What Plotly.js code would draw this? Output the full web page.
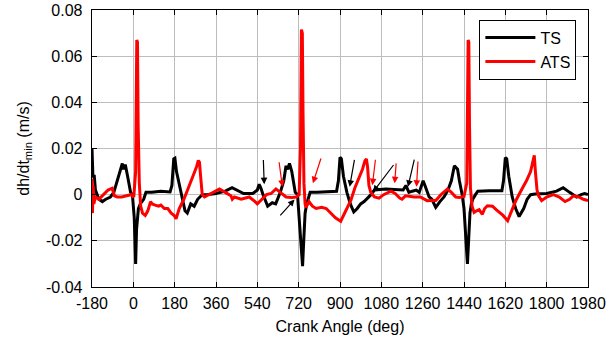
<!DOCTYPE html>
<html>
<head>
<meta charset="utf-8">
<script src="https://cdn.plot.ly/plotly-3.0.1.min.js"></script>
<style>html,body{margin:0;padding:0;background:#fff;}#chart{width:609px;height:346px;}</style>
</head>
<body>
<div id="chart"></div>
<script>
// TS series (black)
const tsAngle = [-180,-176,-170,-165,-150,-135,-120,-100,-85,-70,-55,-48,-42,-35,-25,-12,-4,4,10,14,22,30,45,55,80,120,160,168,176,181,188,200,212,225,235,250,265,280,300,320,360,400,430,450,480,520,540,548,555,565,585,605,620,640,655,665,672,680,690,705,715,722,737,742,748,755,762,770,800,850,885,893,900,906,915,930,945,960,975,990,1005,1035,1050,1100,1150,1175,1187,1200,1215,1232,1245,1262,1270,1288,1300,1317,1335,1353,1370,1385,1398,1404,1412,1420,1432,1440,1455,1460,1466,1472,1478,1490,1500,1550,1605,1612,1620,1626,1635,1650,1665,1680,1700,1715,1730,1750,1800,1843,1872,1900,1930,1950,1965,1980];
const tsValue = [0.020,0.008,0.008,0.002,-0.002,-0.003,-0.002,-0.001,0.001,0.006,0.012,0.0135,0.011,0.013,0.008,0.001,0.0,-0.01,-0.030,-0.015,-0.006,-0.004,-0.002,0.001,0.001,0.0015,0.0012,0.004,0.0155,0.0158,0.010,0.004,-0.002,-0.007,-0.008,-0.004,-0.005,-0.002,0.0,0.0,0.0005,0.0015,0.003,0.002,0.0005,0.0005,0.002,0.0045,0.003,0.0,-0.005,-0.0035,-0.004,0.001,0.006,0.0125,0.011,0.0135,0.010,0.001,0.0,-0.010,-0.031,-0.020,-0.008,-0.004,-0.001,0.001,0.001,0.0012,0.0015,0.006,0.0162,0.0155,0.008,0.001,-0.004,-0.0075,-0.006,-0.004,-0.003,0.0,0.002,0.0025,0.0022,0.002,0.004,0.001,0.0015,0.002,0.001,0.006,0.004,-0.001,-0.002,-0.0055,-0.003,-0.001,0.002,0.006,0.0125,0.012,0.011,0.006,0.0,-0.006,-0.030,-0.020,-0.008,-0.004,-0.002,0.0,0.0015,0.0017,0.0017,0.006,0.016,0.0155,0.008,-0.001,-0.006,-0.0095,-0.006,-0.002,0.0,0.0003,0.0005,0.0015,0.003,0.001,-0.001,0.0,0.0005,0.0];

// ATS series (red)
const atsAngle = [-180,-178,-175,-172,-165,-150,-130,-110,-92,-82,-70,-50,-30,-10,2,10,15,18,21,26,32,40,52,63,75,82,95,110,120,135,150,165,178,186,200,220,240,260,275,283,288,293,300,310,330,350,375,400,425,431,440,470,505,530,540,560,580,600,621,640,665,690,710,722,728,732,736,739,743,748,752,765,780,796,820,840,860,880,903,915,930,947,965,985,998,1008,1015,1020,1026,1034,1050,1070,1090,1122,1140,1160,1170,1185,1200,1223,1250,1279,1300,1317,1340,1368,1385,1404,1420,1440,1452,1458,1461,1464,1468,1475,1484,1495,1506,1520,1530,1542,1564,1580,1593,1610,1630,1648,1666,1690,1712,1730,1741,1746,1751,1758,1765,1778,1800,1829,1855,1880,1900,1916,1940,1960,1980];
const atsValue = [0.007,-0.008,0.004,-0.004,-0.001,-0.002,0.0,0.002,0.0028,-0.0005,-0.001,-0.001,-0.0005,0.0,-0.001,0.010,0.067,0.066,0.030,0.005,-0.005,-0.008,-0.009,-0.007,-0.003,-0.004,-0.0045,-0.005,-0.0045,-0.006,-0.006,-0.008,-0.009,-0.0105,-0.006,-0.002,0.003,0.008,0.012,0.0148,0.014,0.008,0.0,-0.001,0.0,0.001,0.0025,0.001,-0.0005,-0.002,-0.001,-0.002,-0.001,-0.003,-0.004,-0.002,0.0,0.0005,0.0025,0.001,-0.001,-0.0012,-0.001,0.0,0.020,0.0715,0.070,0.035,0.005,-0.004,-0.0055,-0.003,-0.005,-0.006,-0.0055,-0.006,-0.0078,-0.010,-0.0115,-0.009,-0.0055,-0.0025,0.003,0.008,0.011,0.0145,0.0155,0.012,0.004,0.001,-0.001,-0.0015,0.0,0.0015,0.0005,-0.0015,-0.002,-0.0005,-0.0008,-0.001,-0.001,-0.0026,-0.0025,-0.0025,0.0,0.0025,0.001,-0.001,-0.0012,-0.0008,0.005,0.067,0.066,0.030,0.003,-0.005,-0.0077,-0.007,-0.0065,-0.0085,-0.006,-0.0048,-0.005,-0.0065,-0.0075,-0.009,-0.0113,-0.007,-0.0025,0.002,0.006,0.010,0.014,0.017,0.010,0.002,-0.0005,-0.0026,-0.001,0.0,-0.001,-0.003,-0.002,-0.0005,-0.001,-0.002,-0.0026];

const xTicks = [-180,0,180,360,540,720,900,1080,1260,1440,1620,1800,1980];
const xTickLabels = ['-180','0','180','360','540','720','900','1080','1260','1440','1620','1800','1980'];
const yTicks = [-0.04,-0.02,0,0.02,0.04,0.06,0.08];
const yTickLabels = ['-0.04','-0.02','0','0.02','0.04','0.06','0.08'];

// arrows: [tailAngle, tailValue, headAngle, headValue, color]
const arrows = [
  [566,0.0157,570,0.0045,'black'],
  [634,0.0147,649,0.0034,'red'],
  [634,-0.0096,702,-0.0021,'black'],
  [819,0.0163,782,0.0049,'red'],
  [964,0.0157,942,0.0034,'black'],
  [1055,0.0158,1041,0.0041,'red'],
  [1138,0.0135,1044,0.0012,'black'],
  [1145,0.0142,1138,0.0049,'red'],
  [1225,0.0158,1196,0.0034,'black'],
  [1240,0.0150,1233,0.0034,'red']
];

const font = 'Liberation Sans, Arial, sans-serif';
const traces = [
  {x: tsAngle, y: tsValue, name: 'TS', type: 'scatter', mode: 'lines',
   line: {color: '#000000', width: 3}},
  {x: atsAngle, y: atsValue, name: 'ATS', type: 'scatter', mode: 'lines',
   line: {color: '#ff0000', width: 3}}
];
const annotations = arrows.map(a => ({
  x: a[2], y: a[3], ax: a[0], ay: a[1], axref: 'x', ayref: 'y', xref: 'x', yref: 'y',
  text: '', showarrow: true, arrowhead: 2, arrowsize: 1.1, arrowwidth: 1.2,
  arrowcolor: a[4], standoff: 0, startstandoff: 0
}));
const axisCommon = {
  showline: true, linecolor: '#000', linewidth: 1.3, mirror: 'ticks',
  ticks: 'inside', ticklen: 5, tickcolor: '#000', tickwidth: 1,
  showgrid: true, gridcolor: '#bdbdbd', gridwidth: 1, zeroline: false,
  tickfont: {family: font, size: 16, color: '#000'}
};
const layout = {
  width: 609, height: 346,
  margin: {l: 92, r: 21, t: 10, b: 59},
  paper_bgcolor: '#fff', plot_bgcolor: '#fff',
  font: {family: font, color: '#000'},
  showlegend: true,
  legend: {x: 0.781, y: 0.965, xanchor: 'left', yanchor: 'top',
    bordercolor: '#000', borderwidth: 1, bgcolor: '#fff', itemwidth: 50,
    font: {family: font, size: 16, color: '#000'}, tracegroupgap: 0},
  xaxis: Object.assign({}, axisCommon, {
    range: [-180, 1980], tickvals: xTicks, ticktext: xTickLabels, ticklabelstandoff: 1,
    title: {text: 'Crank Angle (deg)', font: {family: font, size: 16, color: '#000'}, standoff: 10}
  }),
  yaxis: Object.assign({}, axisCommon, {
    range: [-0.04, 0.08], tickvals: yTicks, ticktext: yTickLabels, ticklabelstandoff: 5,
    title: {text: 'dh/dt<sub>min</sub> (m/s)', font: {family: font, size: 16, color: '#000'}, standoff: 12}
  }),
  annotations: annotations
};
Plotly.newPlot('chart', traces, layout, {staticPlot: true, displayModeBar: false});
</script>
</body>
</html>
